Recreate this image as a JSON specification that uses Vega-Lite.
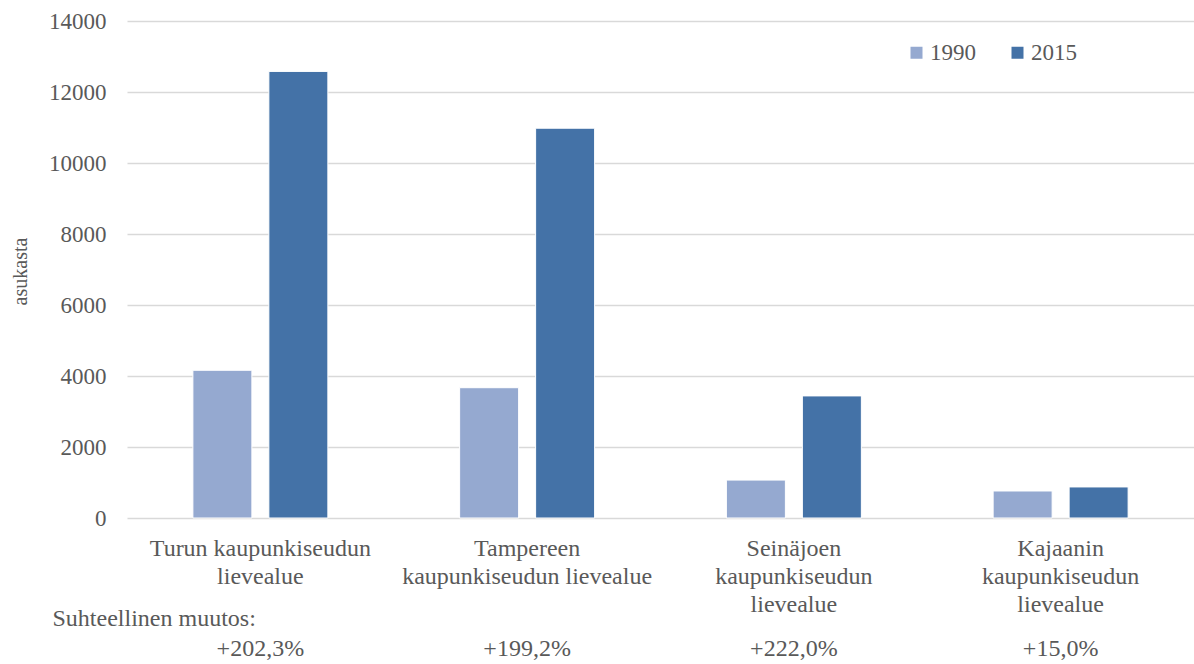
{
  "$schema": "https://vega.github.io/schema/vega-lite/v6.json",
  "width": 1067,
  "height": 497,
  "padding": {"left": 127, "top": 21, "right": 0, "bottom": 146},
  "autosize": {"type": "none"},
  "background": "white",
  "config": {
    "view": {"stroke": null},
    "font": "'Liberation Serif', 'Times New Roman', serif",
    "text": {"font": "'Liberation Serif', 'Times New Roman', serif", "fontSize": 24, "color": "#595959"}
  },
  "datasets": {
    "asukkaat": [
      {"alue": "Turun kaupunkiseudun lievealue", "vuosi": "1990", "asukasta": 4161},
      {"alue": "Turun kaupunkiseudun lievealue", "vuosi": "2015", "asukasta": 12580},
      {"alue": "Tampereen kaupunkiseudun lievealue", "vuosi": "1990", "asukasta": 3670},
      {"alue": "Tampereen kaupunkiseudun lievealue", "vuosi": "2015", "asukasta": 10980},
      {"alue": "Seinäjoen kaupunkiseudun lievealue", "vuosi": "1990", "asukasta": 1068},
      {"alue": "Seinäjoen kaupunkiseudun lievealue", "vuosi": "2015", "asukasta": 3439},
      {"alue": "Kajaanin kaupunkiseudun lievealue", "vuosi": "1990", "asukasta": 761},
      {"alue": "Kajaanin kaupunkiseudun lievealue", "vuosi": "2015", "asukasta": 875}
    ],
    "muutokset": [
      {"alue": "Turun kaupunkiseudun lievealue", "muutos": "+202,3%"},
      {"alue": "Tampereen kaupunkiseudun lievealue", "muutos": "+199,2%"},
      {"alue": "Seinäjoen kaupunkiseudun lievealue", "muutos": "+222,0%"},
      {"alue": "Kajaanin kaupunkiseudun lievealue", "muutos": "+15,0%"}
    ]
  },
  "layer": [
    {
      "data": {"name": "asukkaat"},
      "mark": {"type": "bar", "stroke": "white", "strokeWidth": 1},
      "encoding": {
        "x": {
          "field": "alue",
          "type": "nominal",
          "sort": [
            "Turun kaupunkiseudun lievealue",
            "Tampereen kaupunkiseudun lievealue",
            "Seinäjoen kaupunkiseudun lievealue",
            "Kajaanin kaupunkiseudun lievealue"
          ],
          "scale": {"paddingInner": 0.494, "paddingOuter": 0.247},
          "axis": {
            "title": "Suhteellinen muutos:",
            "titleFont": "'Liberation Serif', 'Times New Roman', serif",
            "titleFontSize": 24,
            "titleFontWeight": "normal",
            "titleColor": "#595959",
            "titleAnchor": "start",
            "titleAlign": "left",
            "titleBaseline": "middle",
            "titleX": -75,
            "titleY": 100,
            "labelAngle": 0,
            "labelFont": "'Liberation Serif', 'Times New Roman', serif",
            "labelFontSize": 24,
            "labelColor": "#595959",
            "labelLineHeight": 28,
            "labelBaseline": "top",
            "labelPadding": 18,
            "labelLimit": 400,
            "labelExpr": "{'Turun kaupunkiseudun lievealue': ['Turun kaupunkiseudun', 'lievealue'], 'Tampereen kaupunkiseudun lievealue': ['Tampereen', 'kaupunkiseudun lievealue'], 'Seinäjoen kaupunkiseudun lievealue': ['Seinäjoen', 'kaupunkiseudun', 'lievealue'], 'Kajaanin kaupunkiseudun lievealue': ['Kajaanin', 'kaupunkiseudun', 'lievealue']}[datum.value]",
            "domain": false,
            "ticks": false,
            "grid": false
          }
        },
        "xOffset": {
          "field": "vuosi",
          "type": "nominal",
          "scale": {"paddingInner": 0.2237, "paddingOuter": 0}
        },
        "y": {
          "field": "asukasta",
          "type": "quantitative",
          "scale": {"domain": [0, 14000], "nice": false},
          "axis": {
            "title": "asukasta",
            "titleFont": "'Liberation Serif', 'Times New Roman', serif",
            "titleFontSize": 20,
            "titleFontWeight": "normal",
            "titleColor": "#595959",
            "titleAngle": -90,
            "titleBaseline": "middle",
            "titleAlign": "center",
            "titleX": -107,
            "titleY": 250,
            "values": [0, 2000, 4000, 6000, 8000, 10000, 12000, 14000],
            "format": "d",
            "labelFont": "'Liberation Serif', 'Times New Roman', serif",
            "labelFontSize": 23,
            "labelColor": "#595959",
            "labelPadding": 21,
            "domain": false,
            "ticks": false,
            "gridColor": "#D9D9D9",
            "gridWidth": 1.5
          }
        },
        "color": {
          "field": "vuosi",
          "type": "nominal",
          "scale": {"domain": ["1990", "2015"], "range": ["#95A9D0", "#4472A7"]},
          "legend": {
            "title": null,
            "orient": "none",
            "legendX": 778,
            "legendY": 20,
            "direction": "horizontal",
            "symbolType": "square",
            "symbolSize": 144,
            "symbolStrokeWidth": 0,
            "labelFont": "'Liberation Serif', 'Times New Roman', serif",
            "labelFontSize": 23,
            "labelColor": "#595959",
            "labelOffset": 2,
            "columnPadding": 30
          }
        }
      }
    },
    {
      "data": {"name": "muutokset"},
      "mark": {"type": "text", "dy": 131, "baseline": "middle", "align": "center"},
      "encoding": {
        "x": {
          "field": "alue",
          "type": "nominal",
          "sort": [
            "Turun kaupunkiseudun lievealue",
            "Tampereen kaupunkiseudun lievealue",
            "Seinäjoen kaupunkiseudun lievealue",
            "Kajaanin kaupunkiseudun lievealue"
          ]
        },
        "y": {"datum": 0},
        "text": {"field": "muutos"}
      }
    }
  ]
}
